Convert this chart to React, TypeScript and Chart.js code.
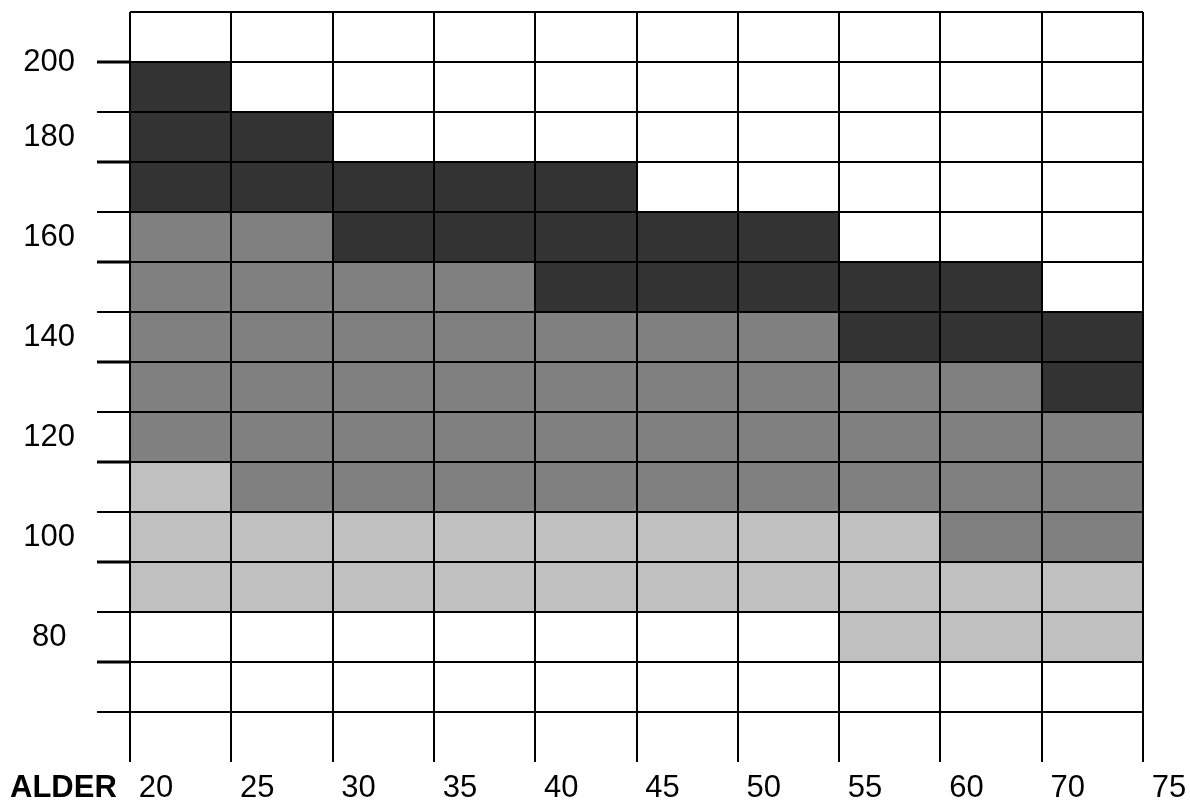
import { useEffect, useRef } from "react";
import { Chart, registerables } from "chart.js";

Chart.register(...registerables);

// x tick labels (age boundaries)
const ageLabels = ["20", "25", "30", "35", "40", "45", "50", "55", "60", "70", "75"];
// column indices (one bar column per age band)
const columns = [0, 1, 2, 3, 4, 5, 6, 7, 8, 9];

// dark zone (pulse range)
const darkLow = [170, 170, 160, 160, 150, 150, 150, 140, 140, 130];
const darkHigh = [200, 190, 180, 180, 180, 170, 170, 160, 160, 150];
// medium zone
const midLow = [120, 110, 110, 110, 110, 110, 110, 110, 100, 100];
const midHigh = [170, 170, 160, 160, 150, 150, 150, 140, 140, 130];
// light zone
const lightLow = [90, 90, 90, 90, 90, 90, 90, 80, 80, 80];
const lightHigh = [120, 110, 110, 110, 110, 110, 110, 110, 100, 100];

// labelled y values
const yLabelValues = [200, 180, 160, 140, 120, 100, 80];

const FONT = '"Liberation Sans", Arial, Helvetica, sans-serif';
const X_PAD = 8;

const alderPlugin = {
  id: "alderLabel",
  afterDraw(chart: any) {
    const ctx = chart.ctx;
    const xs = chart.scales.x;
    ctx.save();
    ctx.font = `bold 31px ${FONT}`;
    ctx.fillStyle = "#000";
    ctx.textAlign = "left";
    ctx.textBaseline = "middle";
    ctx.fillText("ALDER", 10, xs.top + X_PAD + (31 * 1.2) / 2);
    ctx.restore();
  },
};

function toBars(low: number[], high: number[]) {
  return columns.map((i) => ({ x: i + 0.5, y: [low[i], high[i]] }));
}

export default function App() {
  const canvasRef = useRef<HTMLCanvasElement | null>(null);

  useEffect(() => {
    if (!canvasRef.current) return;
    const chart = new Chart(canvasRef.current, {
      type: "bar",
      data: {
        datasets: [
          { data: toBars(darkLow, darkHigh) as any, backgroundColor: "#333333", borderWidth: 0, grouped: false } as any,
          { data: toBars(midLow, midHigh) as any, backgroundColor: "#808080", borderWidth: 0, grouped: false } as any,
          { data: toBars(lightLow, lightHigh) as any, backgroundColor: "#c0c0c0", borderWidth: 0, grouped: false } as any,
        ],
      },
      options: {
        responsive: false,
        animation: false,
        devicePixelRatio: 1,
        layout: { padding: { left: 0, top: 12, right: 47, bottom: 0 } },
        plugins: { legend: { display: false }, tooltip: { enabled: false }, title: { display: false } },
        datasets: { bar: { barPercentage: 1, categoryPercentage: 1 } },
        scales: {
          x: {
            type: "linear",
            min: 0,
            max: 10,
            offset: false,
            border: { display: false },
            grid: { color: "#000", lineWidth: 2, drawTicks: false, offset: false, z: 1 },
            ticks: {
              stepSize: 1,
              autoSkip: false,
              maxRotation: 0,
              labelOffset: 26,
              padding: X_PAD,
              color: "#000",
              font: { family: FONT, size: 31 },
              callback: (v: any) => ageLabels[v] ?? "",
            },
            afterFit: (s: any) => {
              s.height = 38;
              s.paddingLeft = 0;
              s.paddingRight = 0;
            },
          },
          y: {
            type: "linear",
            min: 60,
            max: 210,
            border: { display: false },
            grid: {
              z: 1,
              color: (c: any) => (c.tick && c.tick.value === 60 ? "rgba(0,0,0,0)" : "#000"),
              lineWidth: 2,
              tickLength: 33,
              tickWidth: (c: any) => (c.tick && c.tick.value % 20 === 0 ? 3 : 2),
              tickColor: (c: any) =>
                c.tick && (c.tick.value === 60 || c.tick.value === 210) ? "rgba(0,0,0,0)" : "#000",
            },
            ticks: {
              stepSize: 10,
              autoSkip: false,
              padding: 22,
              color: "#000",
              font: { family: FONT, size: 31, lineHeight: 49 / 31 },
              callback: (v: any) => {
                if (v === 200) return "200";
                if (v === 80) return ["80 ", ""];
                if (yLabelValues.includes(v)) return [String(v), ""];
                return "";
              },
            },
            afterFit: (s: any) => {
              s.width = 130;
              s.paddingTop = 0;
              s.paddingBottom = 0;
            },
          },
        },
      } as any,
      plugins: [alderPlugin],
    });
    return () => chart.destroy();
  }, []);

  return (
    <div style={{ position: "absolute", left: 0, top: 0, width: 1190, height: 800, background: "#fff" }}>
      <canvas ref={canvasRef} width={1190} height={800} style={{ display: "block" }} />
    </div>
  );
}
